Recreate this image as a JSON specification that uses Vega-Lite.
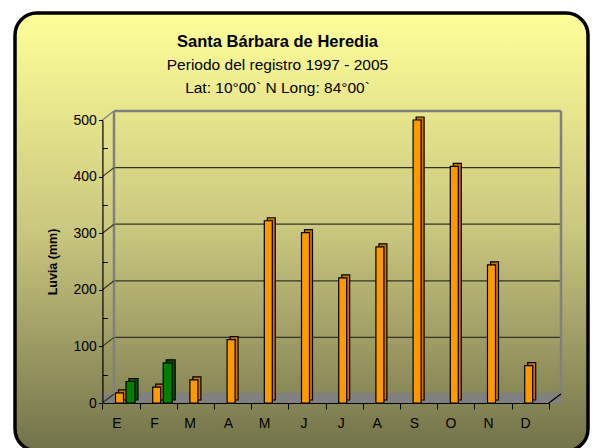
{
  "$schema": "https://vega.github.io/schema/vega-lite/v6.json",
  "width": 573,
  "height": 438,
  "autosize": {"type": "none"},
  "padding": {"left": 15, "top": 13, "right": 4, "bottom": 0},
  "background": "white",
  "title": {
    "text": "Santa Bárbara de Heredia",
    "subtitle": ["Periodo del registro 1997 - 2005", "Lat: 10°00` N Long: 84°00`"],
    "anchor": "middle",
    "frame": "group",
    "dx": -24,
    "offset": -83,
    "font": "Liberation Sans",
    "fontSize": 16.5,
    "fontWeight": "bold",
    "color": "black",
    "subtitleFont": "Liberation Sans",
    "subtitleFontSize": 15.5,
    "subtitleColor": "black",
    "subtitleLineHeight": 23,
    "subtitlePadding": 7
  },
  "datasets": {
    "lluvia": [
      {"mes": "Ene", "serie": "1", "mm": 18},
      {"mes": "Ene", "serie": "2", "mm": 38},
      {"mes": "Feb", "serie": "1", "mm": 28},
      {"mes": "Feb", "serie": "2", "mm": 71},
      {"mes": "Mar", "serie": "1", "mm": 41},
      {"mes": "Abr", "serie": "1", "mm": 112},
      {"mes": "May", "serie": "1", "mm": 322},
      {"mes": "Jun", "serie": "1", "mm": 301},
      {"mes": "Jul", "serie": "1", "mm": 221},
      {"mes": "Ago", "serie": "1", "mm": 276},
      {"mes": "Sep", "serie": "1", "mm": 500},
      {"mes": "Oct", "serie": "1", "mm": 418},
      {"mes": "Nov", "serie": "1", "mm": 244},
      {"mes": "Dic", "serie": "1", "mm": 66}
    ],
    "grid": [{"v": 0}, {"v": 100}, {"v": 200}, {"v": 300}, {"v": 400}, {"v": 500}]
  },
  "layer": [
    {
      "data": {"name": "grid"},
      "transform": [{"filter": "datum.v == 0"}],
      "mark": {"type": "rule", "color": "#808080", "strokeWidth": 9, "strokeCap": "butt", "xOffset": -18.6, "x2Offset": 30.8, "yOffset": -4.5, "y2Offset": -4.5},
      "encoding": {
        "x": {"datum": "Ene", "type": "nominal"},
        "x2": {"datum": "Dic"},
        "y": {"field": "v", "type": "quantitative"},
        "y2": {"field": "v"}
      }
    },
    {
      "data": {"name": "grid"},
      "transform": [{"filter": "datum.v > 0 && datum.v < 500"}],
      "mark": {"type": "rule", "color": "#333326", "strokeWidth": 1.2, "xOffset": -7, "x2Offset": 30.8, "yOffset": -9, "y2Offset": -9},
      "encoding": {
        "x": {"datum": "Ene", "type": "nominal"},
        "x2": {"datum": "Dic"},
        "y": {"field": "v", "type": "quantitative"},
        "y2": {"field": "v"}
      }
    },
    {
      "data": {"name": "grid"},
      "transform": [{"filter": "datum.v == 0 || datum.v == 500"}],
      "mark": {"type": "rule", "color": "#808080", "strokeWidth": 2.5, "xOffset": -7, "x2Offset": 30.8, "yOffset": -9, "y2Offset": -9},
      "encoding": {
        "x": {"datum": "Ene", "type": "nominal"},
        "x2": {"datum": "Dic"},
        "y": {"field": "v", "type": "quantitative"},
        "y2": {"field": "v"}
      }
    },
    {
      "data": {"name": "grid"},
      "transform": [{"filter": "datum.v == 0"}],
      "mark": {"type": "rule", "color": "#808080", "strokeWidth": 2.5, "xOffset": -7, "x2Offset": -7, "yOffset": -9, "y2Offset": -9},
      "encoding": {
        "x": {"datum": "Ene", "type": "nominal"},
        "x2": {"datum": "Ene"},
        "y": {"datum": 0, "type": "quantitative"},
        "y2": {"datum": 500}
      }
    },
    {
      "data": {"name": "grid"},
      "transform": [{"filter": "datum.v == 0"}],
      "mark": {"type": "rule", "color": "#808080", "strokeWidth": 2.5, "xOffset": 30.8, "x2Offset": 30.8, "yOffset": -9, "y2Offset": -9},
      "encoding": {
        "x": {"datum": "Dic", "type": "nominal"},
        "x2": {"datum": "Dic"},
        "y": {"datum": 0, "type": "quantitative"},
        "y2": {"datum": 500}
      }
    },
    {
      "data": {"name": "grid"},
      "mark": {"type": "rule", "strokeWidth": 1.2, "xOffset": -18.6, "x2Offset": -7, "y2Offset": -9},
      "encoding": {
        "x": {"datum": "Ene", "type": "nominal"},
        "x2": {"datum": "Ene"},
        "y": {"field": "v", "type": "quantitative"},
        "y2": {"field": "v"},
        "color": {"condition": {"test": "datum.v == 500", "value": "#808080"}, "value": "#333326"}
      }
    },
    {
      "data": {"name": "grid"},
      "transform": [{"filter": "datum.v == 0"}],
      "mark": {"type": "rule", "color": "black", "strokeWidth": 1.2, "xOffset": 18.6, "x2Offset": 30.8, "y2Offset": -9},
      "encoding": {
        "x": {"datum": "Dic", "type": "nominal"},
        "x2": {"datum": "Dic"},
        "y": {"field": "v", "type": "quantitative"},
        "y2": {"field": "v"}
      }
    },
    {
      "data": {"name": "lluvia"},
      "transform": [{"filter": "datum.serie == '1'"}],
      "mark": {"type": "bar", "width": 8, "color": "#C87400", "stroke": "black", "strokeWidth": 1.2, "xOffset": 1.5, "yOffset": -3, "y2Offset": -3},
      "encoding": {
        "x": {"field": "mes", "type": "nominal", "sort": null},
        "y": {"field": "mm", "type": "quantitative"}
      }
    },
    {
      "data": {"name": "lluvia"},
      "transform": [{"filter": "datum.serie == '2'"}],
      "mark": {"type": "bar", "width": 9, "color": "#005200", "stroke": "black", "strokeWidth": 1.2, "xOffset": 12.5, "yOffset": -3, "y2Offset": -3},
      "encoding": {
        "x": {"field": "mes", "type": "nominal", "sort": null},
        "y": {"field": "mm", "type": "quantitative"}
      }
    },
    {
      "data": {"name": "lluvia"},
      "transform": [{"filter": "datum.serie == '1'"}],
      "mark": {"type": "bar", "width": 8, "color": "#FF9900", "stroke": "black", "strokeWidth": 1.2, "xOffset": -1.5},
      "encoding": {
        "x": {
          "field": "mes",
          "type": "nominal",
          "sort": null,
          "scale": {
            "type": "band",
            "domain": ["Ene", "Feb", "Mar", "Abr", "May", "Jun", "Jul", "Ago", "Sep", "Oct", "Nov", "Dic"],
            "range": [87.4, 533.8],
            "paddingInner": 0,
            "paddingOuter": 0
          },
          "axis": {
            "title": null,
            "labelExpr": "substring(datum.label, 0, 1)",
            "labelAngle": 0,
            "offset": -48,
            "tickBand": "extent",
            "tickSize": 6,
            "labelPadding": 14,
            "labelFontSize": 14,
            "grid": false,
            "zindex": 1
          }
        },
        "y": {
          "field": "mm",
          "type": "quantitative",
          "scale": {"domain": [0, 500], "range": [390, 107], "nice": false},
          "axis": {
            "title": "Luvia (mm)",
            "values": [0, 50, 100, 150, 200, 250, 300, 350, 400, 450, 500],
            "labelExpr": "datum.value % 100 == 0 ? datum.label : ''",
            "tickSize": {"condition": {"test": "datum.value % 100 == 0", "value": 4}, "value": -5},
            "labelPadding": 2,
            "labelFontSize": 14,
            "offset": -87.4,
            "grid": false,
            "titleFontSize": 12.5,
            "titleFontWeight": "bold",
            "titlePadding": 14,
            "zindex": 1
          }
        }
      }
    },
    {
      "data": {"name": "lluvia"},
      "transform": [{"filter": "datum.serie == '2'"}],
      "mark": {"type": "bar", "width": 9, "color": "#008000", "stroke": "black", "strokeWidth": 1.2, "xOffset": 9.5},
      "encoding": {
        "x": {"field": "mes", "type": "nominal", "sort": null},
        "y": {"field": "mm", "type": "quantitative"}
      }
    }
  ],
  "config": {
    "font": "Liberation Sans",
    "view": {
      "fill": {
        "gradient": "linear",
        "x1": 0, "y1": 0, "x2": 0, "y2": 1,
        "stops": [
          {"offset": 0, "color": "#FFFF99"},
          {"offset": 0.5, "color": "#C9C67E"},
          {"offset": 1, "color": "#72724A"}
        ]
      },
      "stroke": "black",
      "strokeWidth": 3.5,
      "cornerRadius": 22
    },
    "axis": {
      "domainColor": "black",
      "domainWidth": 1.2,
      "tickColor": "black",
      "tickWidth": 1,
      "labelColor": "black",
      "titleColor": "black",
      "labelFont": "Liberation Sans",
      "titleFont": "Liberation Sans"
    }
  }
}
